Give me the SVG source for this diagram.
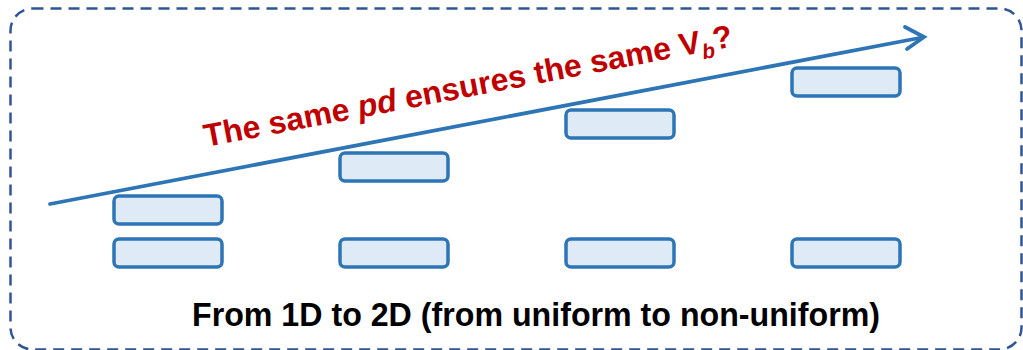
<svg xmlns="http://www.w3.org/2000/svg" width="1023" height="350" viewBox="0 0 1023 350">
<style>
.box{fill:#DEEBF7;stroke:#2E75B6;stroke-width:3.5}
.frame{fill:none;stroke:#2F5597;stroke-width:2.5;stroke-dasharray:11 7}
.q{font-family:"Liberation Sans",Arial,sans-serif;font-weight:bold;font-size:32px;fill:#C00000}
.cap{font-family:"Liberation Sans",Arial,sans-serif;font-weight:bold;font-size:33px;fill:#000}
</style>
<rect class="frame" x="10.5" y="8.5" width="1011" height="341" rx="22"/>
<g id="connectors">
<line x1="50" y1="204" x2="922" y2="37.5" stroke="#2E75B6" stroke-width="3.8" stroke-linecap="round"/>
<polyline points="905,27 924,37 907,49" fill="none" stroke="#2E75B6" stroke-width="3.8" stroke-linecap="round" stroke-linejoin="miter"/>
</g>
<g id="b1top"><rect class="box" x="114" y="196" width="108" height="28" rx="5"/></g>
<g id="b2top"><rect class="box" x="340" y="153" width="108" height="28" rx="5"/></g>
<g id="b3top"><rect class="box" x="566" y="110" width="108" height="28" rx="5"/></g>
<g id="b4top"><rect class="box" x="792" y="68" width="108" height="28" rx="5"/></g>
<g id="b1bot"><rect class="box" x="114" y="239" width="108" height="28" rx="5"/></g>
<g id="b2bot"><rect class="box" x="340" y="239" width="108" height="28" rx="5"/></g>
<g id="b3bot"><rect class="box" x="566" y="239" width="108" height="28" rx="5"/></g>
<g id="b4bot"><rect class="box" x="792" y="239" width="108" height="28" rx="5"/></g>
<text class="q" transform="translate(206,147) rotate(-10.8)">The same <tspan font-style="italic">pd</tspan> ensures the same V<tspan font-style="italic" font-size="21" dy="7">b</tspan><tspan dy="-7">?</tspan></text>
<text class="cap" x="192" y="326" textLength="688" lengthAdjust="spacingAndGlyphs">From 1D to 2D (from uniform to non-uniform)</text>
</svg>
